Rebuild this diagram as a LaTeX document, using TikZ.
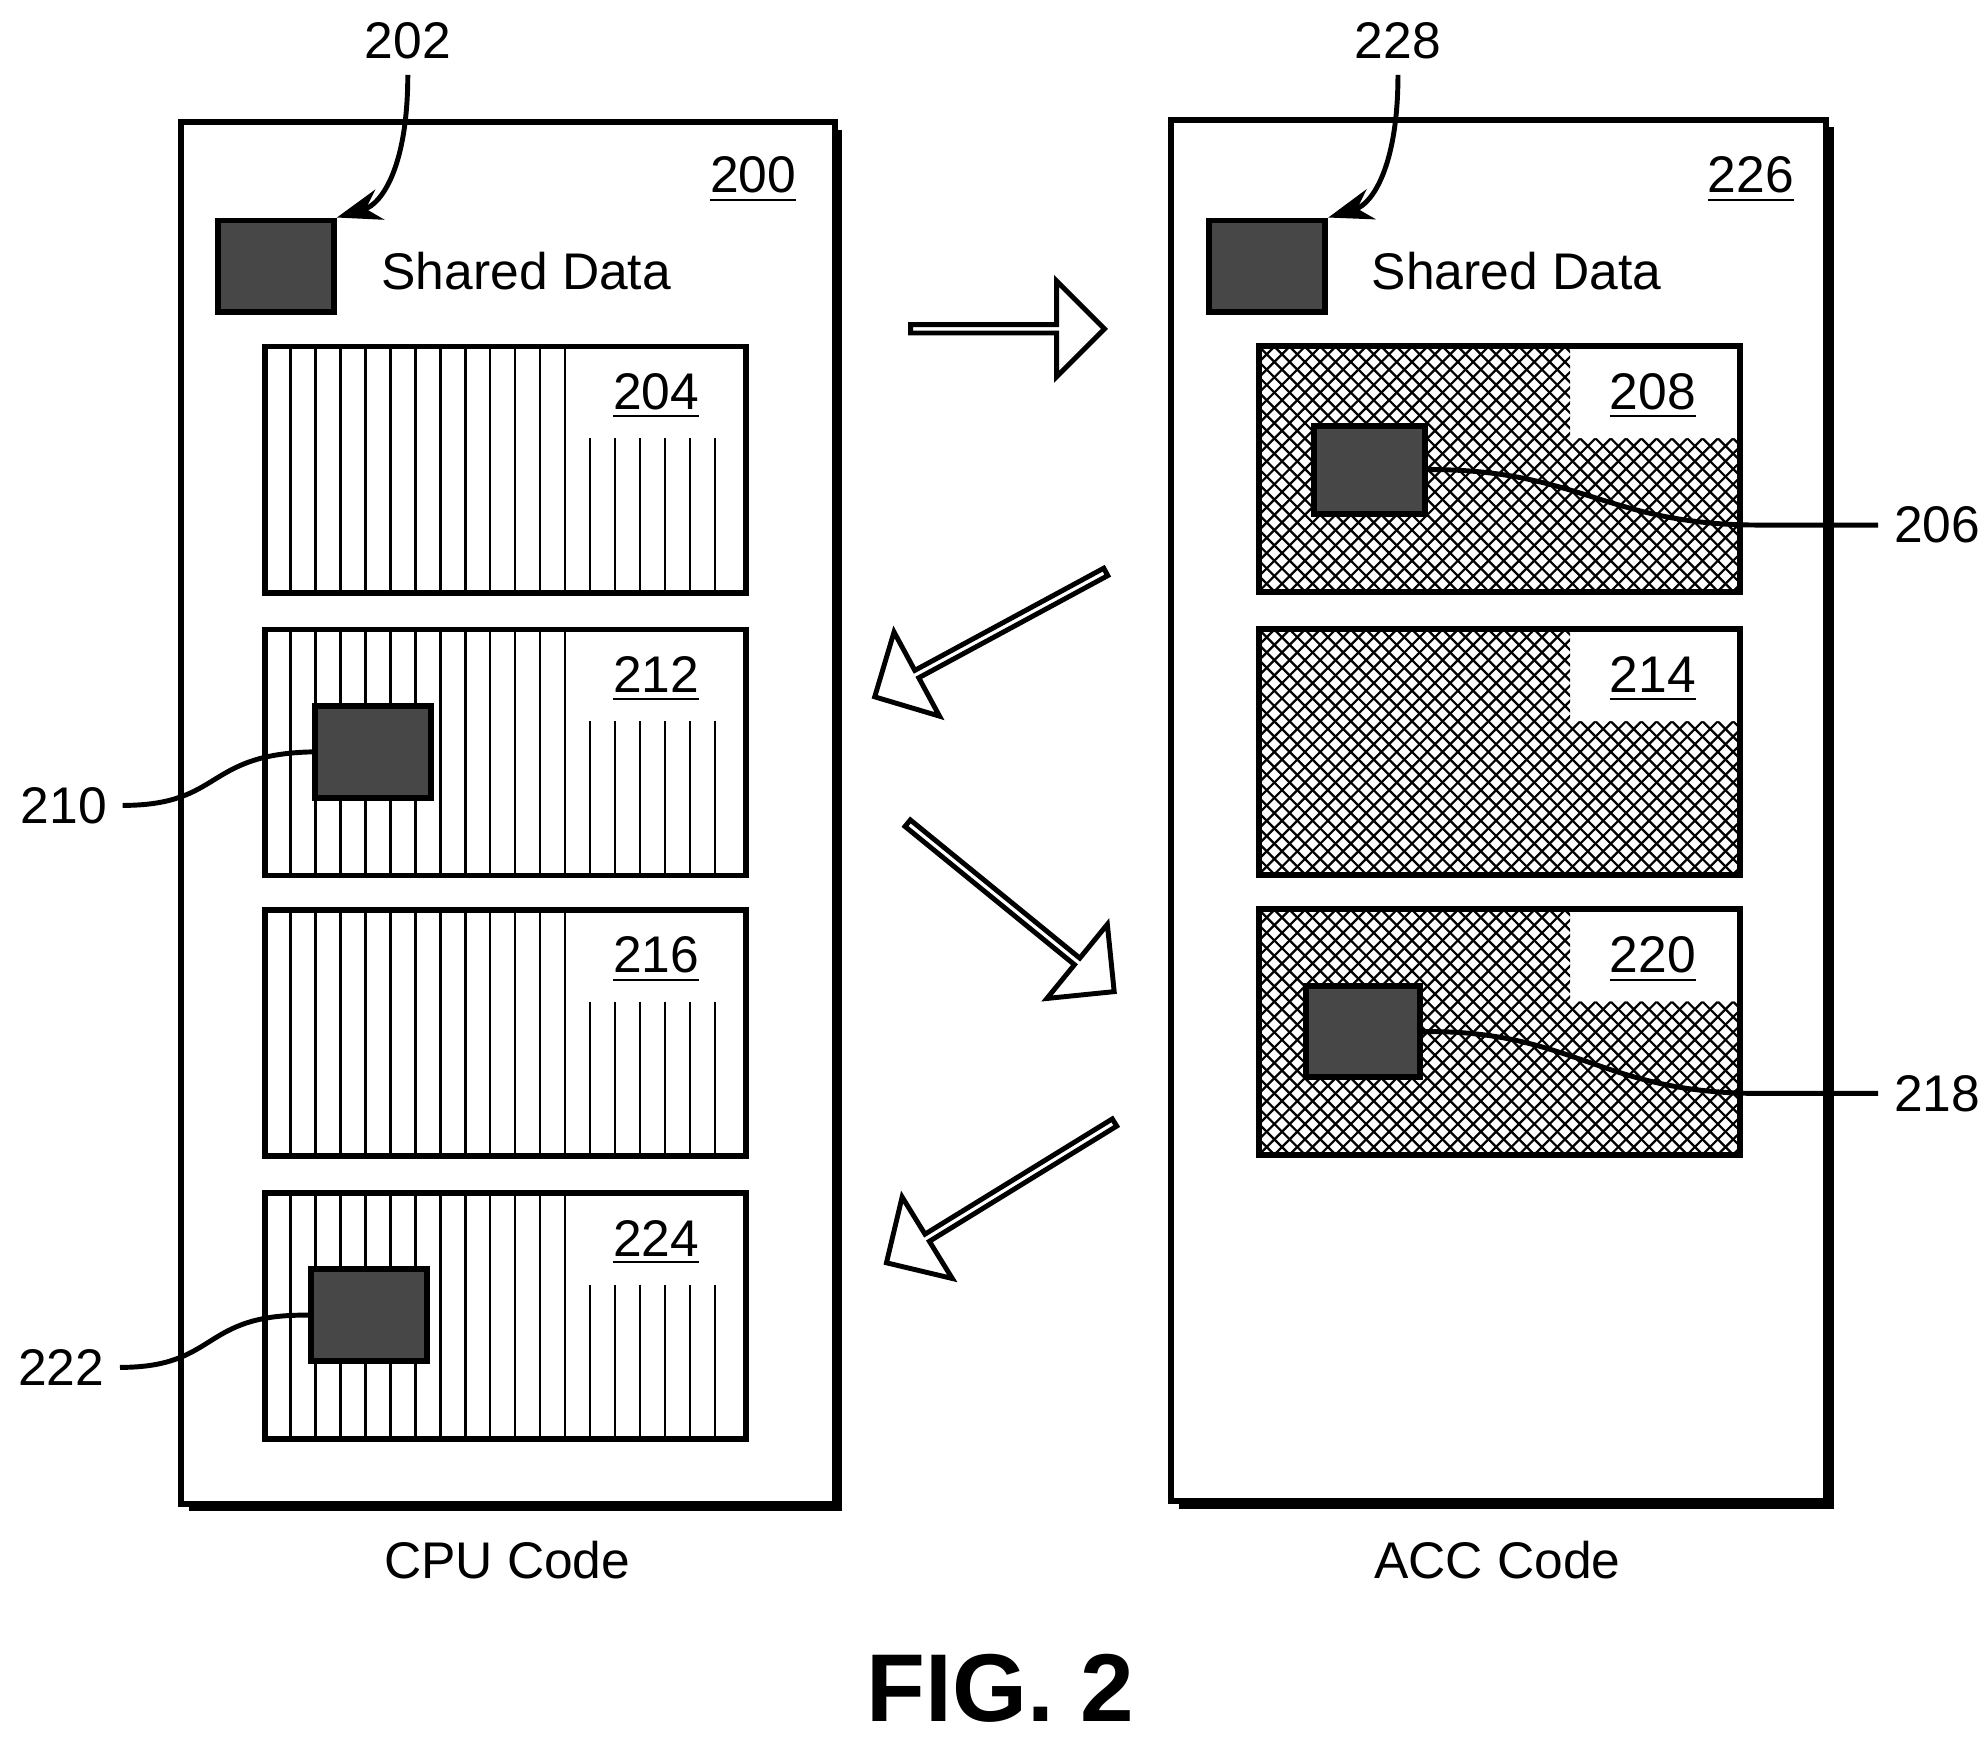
\documentclass[tikz,border=0pt]{standalone}
\usepackage{fontspec}
\setmainfont{Liberation Sans}
\usetikzlibrary{arrows.meta,shapes.arrows}

\tikzset{
  outer box/.style={draw,line width=1.3pt,fill=white},
  block/.style={draw,line width=1.3pt,minimum width=3.77cm,minimum height=1.93cm,inner sep=0pt},
  data box/.style={draw,line width=1.3pt,fill=black!72,inner sep=0pt},
  hatch/.style={line width=0.5pt},
  num/.style={font=\fontsize{11.5}{13}\selectfont},
  lead/.style={line width=1.1pt},
  big arrow/.style={single arrow,draw,line width=1.1pt,fill=white,minimum width=0.75cm,
    single arrow head extend=0.2cm,single arrow head indent=0pt,inner sep=0pt,minimum height=#1},
}

% vertical-line block on the CPU side: top y, label, name
\newcommand\cpublock[3]{%
  \foreach \x in {228,247.6,...,567}{
    \pgfmathsetmacro\ys{ifthenelse(\x>460,#1+72,#1)}
    \draw[hatch] (\x,\ys) -- (\x,#1+193);
  }
  \node[block] (#3) at (396.5,#1+96.5) {};
  \node[num] at (515,#1+39) {\underline{#2}};
}
% cross-hatched block on the ACC side: top y, label, name
\newcommand\accblock[3]{%
  \begin{scope}
    \clip (988,#1) -- (1232,#1) -- (1232,#1+72) -- (1365,#1+72) -- (1365,#1+193) -- (988,#1+193) -- cycle;
    \foreach \k in {-18,...,49}{
      \draw[hatch] (988+\k*12,#1) -- ++(200,200);
      \draw[hatch] (988+\k*12,#1) -- ++(-200,200);
    }
  \end{scope}
  \node[block] (#3) at (1176.5,#1+96) {};
  \node[num] at (1297,#1+39) {\underline{#2}};
}

\begin{document}
\begin{tikzpicture}[x=0.01cm,y=-0.01cm]
  \useasboundingbox (0,0) rectangle (1560,1363);

  % two code columns
  \fill (148,102) rectangle (661,1186);
  \draw[outer box] (142,96) rectangle (655,1180);
  \fill (925,100) rectangle (1439,1184);
  \draw[outer box] (919,94) rectangle (1433,1178);
  \node[num] (n200) at (591,141) {\underline{200}};
  \node[num] (n226) at (1374,141) {\underline{226}};

  % shared data
  \node[data box,minimum width=0.91cm,minimum height=0.72cm] (n202box) at (216.5,209) {};
  \node[num,anchor=west] (cpushared) at (287,213) {Shared Data};
  \node[data box,minimum width=0.91cm,minimum height=0.72cm] (n228box) at (994.5,209) {};
  \node[num,anchor=west] (accshared) at (1064,213) {Shared Data};
  \node[num] (n202) at (320,32) {202};
  \node[num] (n228) at (1097,32) {228};
  \draw[lead,-{Stealth[length=10pt,width=7pt]}] (n202.south) .. controls (320,130) and (300,160) .. (n202box.north east);
  \draw[lead,-{Stealth[length=10pt,width=7pt]}] (n228.south) .. controls (1097,130) and (1077,160) .. (n228box.north east);

  % CPU blocks
  \cpublock{272}{204}{n204}
  \cpublock{494}{212}{n212}
  \cpublock{714}{216}{n216}
  \cpublock{936}{224}{n224}
  \node[data box,minimum width=0.91cm,minimum height=0.72cm] (n210box) at (292.5,590) {};
  \node[data box,minimum width=0.91cm,minimum height=0.72cm] (n222box) at (289.5,1032) {};
  \node[num] (n210) at (50,632) {210};
  \node[num] (n222) at (48,1073) {222};
  \draw[lead] (n210.east) .. controls (175,632) and (160,592) .. (n210box.west);
  \draw[lead] (n222.east) .. controls (172,1073) and (157,1031) .. (n222box.west);

  % ACC blocks
  \accblock{272}{208}{n208}
  \accblock{494}{214}{n214}
  \accblock{714}{220}{n220}
  \node[data box,minimum width=0.87cm,minimum height=0.69cm] (n206box) at (1074.5,368.5) {};
  \node[data box,minimum width=0.89cm,minimum height=0.71cm] (n218box) at (1069.5,809.5) {};
  \node[num] (n206) at (1520,412) {206};
  \node[num] (n218) at (1520,858) {218};
  \draw[lead] (n206box.east) .. controls (1240,368) and (1260,412) .. (1380,412) -- (n206.west);
  \draw[lead] (n218box.east) .. controls (1235,808) and (1255,858) .. (1380,858) -- (n218.west);

  % transfer arrows
  \node[big arrow=1.52cm] (a1) at (789,258) {};
  \node[big arrow=2.06cm,rotate=208.4] (a2) at (778.5,497) {};
  \node[big arrow=2.09cm,rotate=-39.2] (a3) at (792,711) {};
  \node[big arrow=2.10cm,rotate=211.6] (a4) at (786.5,935) {};

  % captions
  \node[num] (cpucap) at (398,1224) {CPU Code};
  \node[num] (acccap) at (1175,1224) {ACC Code};
  \node[font=\fontsize{21.5}{24}\selectfont\bfseries] (fig) at (785,1325) {FIG. 2};
\end{tikzpicture}
\end{document}
